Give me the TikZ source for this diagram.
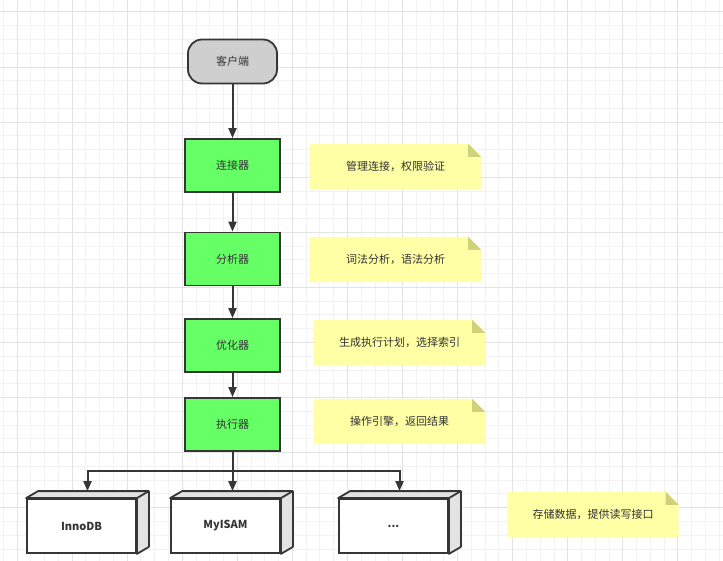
\documentclass[tikz,border=0pt]{standalone}
\usepackage{fontspec}
\setmainfont{Noto Sans CJK SC}
\usetikzlibrary{arrows.meta,calc}
\definecolor{gridminor}{HTML}{F2F2F2}
\definecolor{gridmajor}{HTML}{E3E3E3}
\definecolor{edge}{HTML}{363636}
\definecolor{boxgreen}{HTML}{66FF66}
\definecolor{notey}{HTML}{FFFFA6}
\definecolor{notefold}{HTML}{D1D17A}
\definecolor{clientgray}{HTML}{CFCFCF}
\definecolor{sidegray}{HTML}{E3E3E3}
\definecolor{txt}{HTML}{333333}
\tikzset{
  base/.style={draw=edge, line width=1.8pt, text=txt, font=\fontsize{11}{13}\selectfont, inner sep=0pt},
  procbox/.style={base, fill=boxgreen, minimum width=95pt, minimum height=53pt},
  clientbox/.style={base, fill=clientgray, rounded corners=14pt, minimum width=89pt, minimum height=44pt},
  enginebox/.style={base, fill=white, minimum width=109pt, minimum height=54pt, font=\fontsize{11}{13}\selectfont\bfseries},
  notebox/.style={text=txt, font=\fontsize{11}{13}\selectfont, minimum width=171pt, minimum height=45pt, inner sep=0pt},
  arr/.style={draw=edge, line width=2pt, -{Triangle[width=8pt,length=10pt]}},
}
\newcommand{\mynote}[3]{% name, center, text
  \node[notebox] (#1) at (#2) {#3};
  \fill[notey] (#1.south west) -- (#1.north west) -- ($(#1.north east)+(-13,0)$) -- ($(#1.north east)+(0,13)$) -- (#1.south east) -- cycle;
  \fill[notefold] ($(#1.north east)+(-13,0)$) -- ($(#1.north east)+(-13,13)$) -- ($(#1.north east)+(0,13)$) -- cycle;
  \node[notebox] at (#1) {#3};
}
\newcommand{\myengine}[3]{% name, center, text
  \node[enginebox] (#1) at (#2) {};
  \filldraw[fill=sidegray, draw=edge, line width=1.8pt, line join=round] (#1.north west) -- ++(12,-7) -- ($(#1.north east)+(12,-7)$) -- ($(#1.south east)+(12,-7)$) -- (#1.south east) -- (#1.north east) -- cycle;
  \draw[edge, line width=1.8pt] (#1.north east) -- ++(12,-7);
  \node[enginebox] at (#1) {#3};
}
\begin{document}
\begin{tikzpicture}[x=1pt,y=-1pt]
\useasboundingbox (0,0) rectangle (723,561);
\fill[white] (0,0) rectangle (723,561);
% grid
\foreach \i in {-1,...,52} {
  \draw[gridminor, line width=1pt] ({17+13.77*\i},0) -- ({17+13.77*\i},561);
}
\foreach \j in {-1,...,40} {
  \draw[gridminor, line width=1pt] (0,{12+13.77*\j}) -- (723,{12+13.77*\j});
}
\foreach \i in {-1,...,13} {
  \draw[gridmajor, line width=1pt] ({17+55.08*\i},0) -- ({17+55.08*\i},561);
}
\foreach \j in {-1,...,10} {
  \draw[gridmajor, line width=1pt] (0,{12+55.08*\j}) -- (723,{12+55.08*\j});
}
% main chain
\node[clientbox] (client) at (232.5,61.5) {客户端};
\node[procbox] (conn) at (232.5,165.5) {连接器};
\node[procbox] (parse) at (232.5,259) {分析器};
\node[procbox] (opt) at (232.5,345.5) {优化器};
\node[procbox] (exec) at (232.5,424.5) {执行器};
\draw[arr] (client) -- (conn);
\draw[arr] (conn) -- (parse);
\draw[arr] (parse) -- (opt);
\draw[arr] (opt) -- (exec);
% notes
\mynote{n1}{395.5,166.5}{管理连接，权限验证}
\mynote{n2}{395.5,259.5}{词法分析，语法分析}
\mynote{n3}{399.5,342.5}{生成执行计划，选择索引}
\mynote{n4}{399.5,421.5}{操作引擎，返回结果}
\mynote{n5}{593,514.5}{存储数据，提供读写接口}
% engines
\myengine{inno}{81.5,526}{InnoDB}
\myengine{myisam}{225.5,526}{MyISAM}
\myengine{more}{393.5,526}{...}
\coordinate (split) at (232.5,471);
\coordinate (innotop) at ($(inno.north)+(6,-7)$);
\coordinate (myisamtop) at ($(myisam.north)+(6,-7)$);
\coordinate (moretop) at ($(more.north)+(6,-7)$);
\draw[draw=edge, line width=2pt] (exec.south) -- (split);
\draw[arr] (split) -| (innotop);
\draw[arr] (split) -- (split |- myisamtop);
\draw[arr] (split) -| (moretop);
\end{tikzpicture}
\end{document}
